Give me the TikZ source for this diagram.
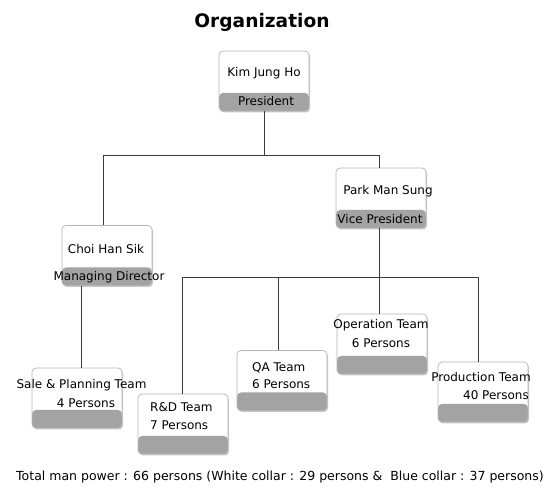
\documentclass[tikz,border=0pt]{standalone}
\usepackage{fontspec}
\setmainfont{DejaVu Sans}
\usetikzlibrary{shadows}
\definecolor{boxborder}{HTML}{B5B5B5}
\definecolor{band}{HTML}{A3A3A3}
\definecolor{linec}{HTML}{3A3A3A}
\begin{document}
\begin{tikzpicture}[x=1pt,y=-1pt,
  orgbox/.style={draw=boxborder, fill=white, rounded corners=4pt,
    minimum width=90pt, minimum height=60pt, inner sep=0pt, line width=0.7pt,
    drop shadow={shadow xshift=1pt, shadow yshift=-1.5pt, opacity=0.45},
    path picture={\fill[band] ([yshift=18pt]path picture bounding box.south west) rectangle (path picture bounding box.south east);}},
  lbl/.style={inner sep=0pt, font=\fontsize{12}{14}\selectfont, anchor=base},
  lblw/.style={lbl, anchor=base west},
  conn/.style={draw=linec, line width=0.9pt}]
\useasboundingbox (0,0) rectangle (550,500);

% title
\node[inner sep=0pt, anchor=base, font=\fontsize{18.6}{22}\selectfont\bfseries] (title) at (262,28) {Organization};

% boxes
\node[orgbox] (pres) at (264,81) {};
\node[orgbox] (park) at (381,198) {};
\node[orgbox] (choi) at (107,255.5) {};
\node[orgbox] (sale) at (77,398) {};
\node[orgbox] (rnd)  at (183,424) {};
\node[orgbox] (qa)   at (282,380.5) {};
\node[orgbox] (oper) at (382,344) {};
\node[orgbox] (prod) at (483,392) {};

% connector junctions
\coordinate (busL) at (103,155);
\coordinate (busR) at (379,155);
\coordinate (b2L) at (182,277);
\coordinate (b2Q) at (278,277);
\coordinate (b2O) at (379,277);
\coordinate (b2R) at (478,277);

\draw[conn] (pres.south) -- (pres.south |- busL);
\draw[conn] (busL) -- (busR);
\draw[conn] (busL) -- (busL |- choi.north);
\draw[conn] (busR) -- (busR |- park.north);
\draw[conn] ([xshift=-26pt]choi.south) -- ([xshift=-26pt]choi.south |- sale.north);
\draw[conn] ([xshift=-2pt]park.south) -- (b2O);
\draw[conn] (b2L) -- (b2R);
\draw[conn] (b2L) -- (b2L |- rnd.north);
\draw[conn] (b2Q) -- (b2Q |- qa.north);
\draw[conn] (b2O) -- (b2O |- oper.north);
\draw[conn] (b2R) -- (b2R |- prod.north);

% labels
\node[lbl] (presN) at (264,77) {Kim Jung Ho};
\node[lbl] (presT) at (266,106) {President};
\node[lbl] (parkN) at (388,195) {Park Man Sung};
\node[lbl] (parkT) at (380,224) {Vice President};
\node[lbl] (choiN) at (106,254) {Choi Han Sik};
\node[lbl] (choiT) at (109,281) {Managing Director};
\node[lbl] (saleN) at (81.5,389) {Sale \& Planning Team};
\node[lbl] (saleP) at (86,407) {4 Persons};
\node[lblw] (rndN) at (150,412) {R\&D Team};
\node[lblw] (rndP) at (150,430) {7 Persons};
\node[lblw] (qaN) at (252,372) {QA Team};
\node[lblw] (qaP) at (252,389) {6 Persons};
\node[lbl] (operN) at (381,329) {Operation Team};
\node[lbl] (operP) at (381,348) {6 Persons};
\node[lbl] (prodN) at (481,382) {Production Team};
\node[lbl] (prodP) at (496,400) {40 Persons};

% footer
\node[lblw, font=\fontsize{12.5}{14}\selectfont] (foot) at (16,481) {Total man power : 66 persons (White collar : 29 persons \&\ \ Blue collar : 37 persons)};
\end{tikzpicture}
\end{document}
